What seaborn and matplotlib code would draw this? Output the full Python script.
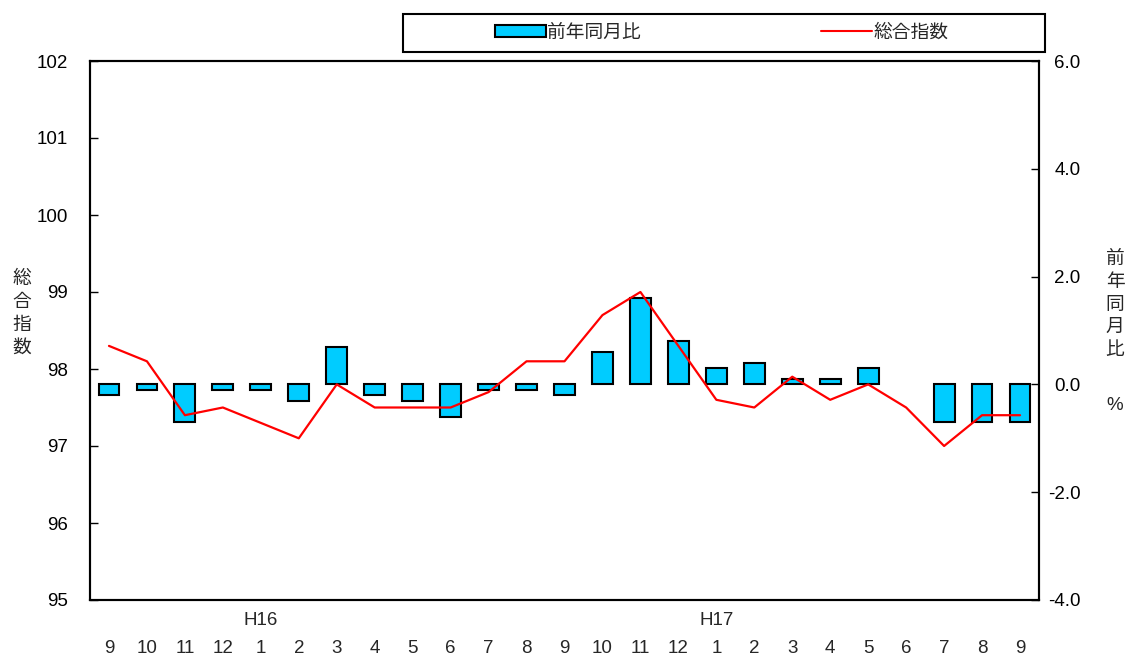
import pandas as pd
import numpy as np
import matplotlib.pyplot as plt
import matplotlib.patches as mpatches
import matplotlib.lines as mlines
import seaborn as sns

sns.set_theme(style="white")
plt.rcParams['font.family'] = ['Liberation Sans', 'Noto Sans CJK JP']

months = ["9", "10", "11", "12", "1", "2", "3", "4", "5", "6", "7", "8",
          "9", "10", "11", "12", "1", "2", "3", "4", "5", "6", "7", "8", "9"]
years = {"H16": 4, "H17": 16}
# 総合指数 (left axis)
index_vals = [98.3, 98.1, 97.4, 97.5, 97.3, 97.1, 97.8, 97.5, 97.5, 97.5, 97.7, 98.1,
              98.1, 98.7, 99.0, 98.3, 97.6, 97.5, 97.9, 97.6, 97.8, 97.5, 97.0, 97.4, 97.4]
# 前年同月比 (right axis, %)
yoy_vals = [-0.2, -0.1, -0.7, -0.1, -0.1, -0.3, 0.7, -0.2, -0.3, -0.6, -0.1, -0.1,
            -0.2, 0.6, 1.6, 0.8, 0.3, 0.4, 0.1, 0.1, 0.3, 0.0, -0.7, -0.7, -0.7]

df = pd.DataFrame({"key": [f"p{i}" for i in range(len(months))],
                   "pos": np.arange(len(months)),
                   "index": index_vals, "yoy": yoy_vals})

FS = 13.5
fig = plt.figure(figsize=(11.27, 6.6), dpi=100)
ax = fig.add_axes([90 / 1127, 1 - 600 / 660, 949 / 1127, 539 / 660])

# bars on right-scale axis
sns.barplot(data=df, x="key", y="yoy", ax=ax, color="#00CCFF", saturation=1,
            width=0.55, edgecolor="black", linewidth=1.5)
for p in ax.patches:
    if p.get_height() == 0:
        p.set_linewidth(0)
ax.set_ylim(-4, 6)
ax.set_xlim(-0.5, len(months) - 0.5)
ax.set_xlabel("")
ax.set_ylabel("")

ax2 = ax.twinx()
sns.lineplot(data=df, x="pos", y="index", ax=ax2, color="#FF0000", linewidth=1.6)
ax2.set_ylim(95, 102)
ax2.set_yticks(range(95, 103))
ax2.set_ylabel("")
ax2.set_xlabel("")
ax2.set_xlim(-0.5, len(months) - 0.5)
ax2.yaxis.tick_left()

ax.yaxis.tick_right()
ax.set_yticks(np.arange(-4, 7, 2))
ax.set_yticklabels([f"{v:.1f}" for v in np.arange(-4, 7, 2)], ha="right")

ax.set_xticks(range(len(months)))
ax.set_xticklabels(months)
ax.tick_params(axis="x", length=0, pad=29, labelsize=FS)
ax.tick_params(axis="y", direction="in", length=6, width=1, labelsize=FS, pad=30, colors="black")
ax2.tick_params(axis="y", direction="in", length=6, width=1, labelsize=FS, pad=16, colors="black")
for a in (ax, ax2):
    for s in a.spines.values():
        s.set_color("black")
        s.set_linewidth(1.5)

for yr, pos in years.items():
    ax.text(pos, -0.038, yr, transform=ax.get_xaxis_transform(), ha="center", va="center", fontsize=FS)

fig.text(22 / 1127, 1 - 314 / 660, "\n".join("総合指数"), ha="center", va="center",
         fontsize=FS, linespacing=1.45)
fig.text(1115 / 1127, 1 - 305 / 660, "\n".join("前年同月比"), ha="center", va="center",
         fontsize=FS, linespacing=1.45)
fig.text(1115 / 1127, 1 - 405 / 660, "%", ha="center", va="center", fontsize=FS)

# legend with a wide frame
fig.patches.append(mpatches.Rectangle((403 / 1127, 1 - 52 / 660), 642 / 1127, 38 / 660,
                                      transform=fig.transFigure, facecolor="white",
                                      edgecolor="black", linewidth=1.5))
bar_h = mpatches.Patch(facecolor="#00CCFF", edgecolor="black", linewidth=1.5, label="前年同月比")
line_h = mlines.Line2D([], [], color="#FF0000", linewidth=1.5, label="総合指数")
fig.legend(handles=[bar_h, line_h], loc="center left", bbox_to_anchor=(495 / 1127, 1 - 33 / 660),
           ncol=2, frameon=False, fontsize=FS,
           handlelength=2.7, handleheight=0.6, handletextpad=0.1, columnspacing=9.6,
           borderpad=0, borderaxespad=0)

fig.savefig("out.png", dpi=100)
